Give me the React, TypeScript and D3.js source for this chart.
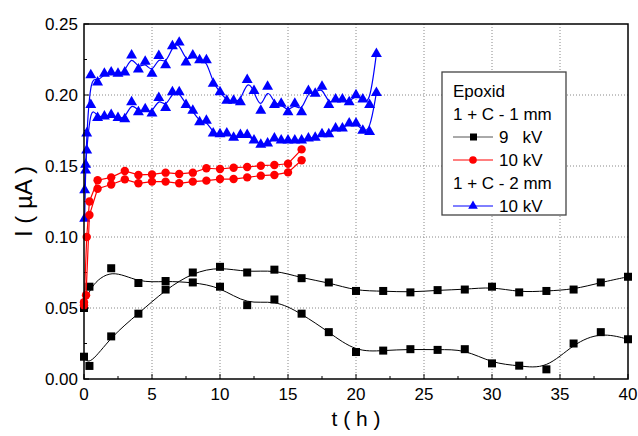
import React, { useEffect, useRef } from 'react';
import * as d3 from 'd3';

const W = 638;
const H = 436;
const margin = { top: 24, right: 10, bottom: 57, left: 84 };

// black, 1 mm, 9 kV (two runs)
const tBlack = [0, 0.4, 2, 4, 6, 8, 10, 12, 14, 16, 18, 20, 22, 24, 26, 28, 30, 32, 34, 36, 38, 40];
const black1 = [0.0157, 0.0092, 0.030, 0.046, 0.063, 0.075, 0.079, 0.075, 0.077, 0.071, 0.068, 0.062,
  0.062, 0.061, 0.0626, 0.063, 0.065, 0.061, 0.062, 0.063, 0.068, 0.072];
const black2 = [0.050, 0.065, 0.078, 0.0676, 0.069, 0.068, 0.065, 0.052, 0.056, 0.046, 0.033, 0.019,
  0.020, 0.021, 0.0205, 0.021, 0.011, 0.0094, 0.0068, 0.025, 0.033, 0.028];

// red, 1 mm, 10 kV (two runs)
const tRed1 = [0, 0.2, 0.4, 1, 2, 3, 4, 5, 6, 7, 8, 9, 10, 11, 12, 13, 14, 15, 16];
const red1 = [0.052, 0.100, 0.125, 0.140, 0.142, 0.1465, 0.1437, 0.1441, 0.1453, 0.1444, 0.1453, 0.1484,
  0.1479, 0.1488, 0.1493, 0.1502, 0.1507, 0.1516, 0.1617];
const tRed2 = [0, 0.15, 0.4, 1, 2, 3, 4, 5, 6, 7, 8, 9, 10, 11, 12, 13, 14, 15, 16];
const red2 = [0.054, 0.059, 0.1155, 0.134, 0.137, 0.1406, 0.1378, 0.139, 0.139, 0.1378, 0.139, 0.1397,
  0.1408, 0.1408, 0.142, 0.1432, 0.1437, 0.1455, 0.154];

// blue, 2 mm, 10 kV (two runs)
const tBlue = [0.05, 0.12, 0.2, 0.5, 1, 1.5, 2, 2.5, 3, 3.5, 4, 4.5, 5, 5.5, 6, 6.5, 7, 7.5, 8, 8.5, 9, 9.5,
  10, 10.5, 11, 11.5, 12, 12.5, 13, 13.5, 14, 14.5, 15, 15.5, 16, 16.5, 17, 17.5, 18, 18.5, 19, 19.5,
  20, 20.5, 21, 21.5];
const blue1 = [0.113, 0.147, 0.173, 0.214, 0.209, 0.215, 0.216, 0.215, 0.216, 0.228, 0.218, 0.2235, 0.215,
  0.2275, 0.221, 0.2345, 0.237, 0.223, 0.228, 0.2246, 0.2246, 0.208, 0.202, 0.196, 0.196, 0.195, 0.2106,
  0.203, 0.189, 0.206, 0.193, 0.194, 0.188, 0.194, 0.188, 0.203, 0.201, 0.206, 0.193, 0.197, 0.197,
  0.195, 0.200, 0.197, 0.193, 0.229];
const blue2 = [0.133, 0.151, 0.161, 0.193, 0.184, 0.185, 0.186, 0.184, 0.183, 0.195, 0.188, 0.190, 0.187,
  0.198, 0.191, 0.202, 0.202, 0.193, 0.189, 0.181, 0.182, 0.173, 0.1725, 0.173, 0.170, 0.172, 0.172,
  0.168, 0.165, 0.166, 0.1695, 0.168, 0.168, 0.168, 0.168, 0.1695, 0.170, 0.1725, 0.1725, 0.1765, 0.1765,
  0.180, 0.180, 0.175, 0.174, 0.2016];

const xTicks = [0, 5, 10, 15, 20, 25, 30, 35, 40];
const yTicks = [0, 0.05, 0.1, 0.15, 0.2, 0.25];
const legendRows = ['Epoxid', '1 + C - 1 mm', '9   kV', '10 kV', '1 + C - 2 mm', '10 kV'];

const FONT = 'Liberation Sans, Arial, sans-serif';

export default function App() {
  const ref = useRef<SVGSVGElement>(null);

  useEffect(() => {
    const svg = d3.select(ref.current);
    svg.selectAll('*').remove();

    const x = d3.scaleLinear().domain([0, 40]).range([margin.left, W - margin.right]);
    const y = d3.scaleLinear().domain([0, 0.25]).range([H - margin.bottom, margin.top]);
    const x0 = x(0), x1 = x(40), y0 = y(0), y1 = y(0.25);

    // dotted grid
    const grid = svg.append('g').attr('stroke', '#888').attr('stroke-width', 1).attr('stroke-dasharray', '1,2');
    xTicks.slice(1, -1).forEach(t => {
      grid.append('line').attr('x1', x(t)).attr('x2', x(t)).attr('y1', y1).attr('y2', y0);
    });
    yTicks.slice(1, -1).forEach(v => {
      grid.append('line').attr('x1', x0).attr('x2', x1).attr('y1', y(v)).attr('y2', y(v));
    });

    // ticks pointing inward
    const ticks = svg.append('g').attr('stroke', '#000').attr('stroke-width', 1);
    d3.range(0, 40.01, 2.5).forEach(t => {
      const len = t % 5 === 0 ? 5 : 3;
      ticks.append('line').attr('x1', x(t)).attr('x2', x(t)).attr('y1', y0).attr('y2', y0 - len);
    });
    d3.range(0, 0.2501, 0.025).forEach((v, i) => {
      const len = i % 2 === 0 ? 5 : 3;
      ticks.append('line').attr('x1', x0).attr('x2', x0 + len).attr('y1', y(v)).attr('y2', y(v));
    });

    svg.selectAll('.xl').data(xTicks).enter().append('text')
      .attr('x', d => x(d)).attr('y', y0 + 21)
      .attr('text-anchor', 'middle').attr('font-size', 17).attr('font-family', FONT)
      .text(d => d);
    svg.selectAll('.yl').data(yTicks).enter().append('text')
      .attr('x', x0 - 6).attr('y', d => y(d) + 6)
      .attr('text-anchor', 'end').attr('font-size', 17).attr('font-family', FONT)
      .text(d => d3.format('.2f')(d));

    svg.append('text').attr('x', (x0 + x1) / 2).attr('y', 426)
      .attr('text-anchor', 'middle').attr('font-size', 21).attr('font-family', FONT)
      .style('white-space', 'pre').text('t ( h )');
    svg.append('text').attr('transform', `translate(32,${(y0 + y1) / 2}) rotate(-90)`)
      .attr('text-anchor', 'middle').attr('font-size', 24).attr('font-family', FONT)
      .style('white-space', 'pre').text('I ( \u00b5A )');

    const basis = d3.line<[number, number]>().x(d => x(d[0])).y(d => y(d[1])).curve(d3.curveBasis);
    const straight = d3.line<[number, number]>().x(d => x(d[0])).y(d => y(d[1]));
    const tri = d3.symbol().type(d3.symbolTriangle).size(52);

    const drawSeries = (ts: number[], vs: number[], color: string, kind: string, smooth: boolean) => {
      const pts = ts.map((t, i) => [t, vs[i]] as [number, number]);
      svg.append('path').datum(pts).attr('fill', 'none').attr('stroke', color)
        .attr('stroke-width', kind === 'square' ? 1 : 1.2)
        .attr('d', smooth ? basis : straight);
      const g = svg.append('g').attr('fill', color);
      pts.forEach(p => {
        if (kind === 'square') {
          g.append('rect').attr('x', x(p[0]) - 4).attr('y', y(p[1]) - 4).attr('width', 8).attr('height', 8);
        } else if (kind === 'circle') {
          g.append('circle').attr('cx', x(p[0])).attr('cy', y(p[1])).attr('r', 4.2);
        } else {
          g.append('path').attr('d', tri).attr('transform', `translate(${x(p[0])},${y(p[1])})`);
        }
      });
    };

    drawSeries(tBlack, black1, '#000', 'square', true);
    drawSeries(tBlack, black2, '#000', 'square', true);
    drawSeries(tBlue, blue1, '#0000ff', 'triangle', true);
    drawSeries(tBlue, blue2, '#0000ff', 'triangle', true);
    drawSeries(tRed1, red1, '#ff0000', 'circle', false);
    drawSeries(tRed2, red2, '#ff0000', 'circle', false);

    // frame
    svg.append('rect').attr('x', x0).attr('y', y1).attr('width', x1 - x0).attr('height', y0 - y1)
      .attr('fill', 'none').attr('stroke', '#000').attr('stroke-width', 1.5);

    // legend
    const lg = svg.append('g');
    lg.append('rect').attr('x', 442).attr('y', 72).attr('width', 124).attr('height', 143)
      .attr('fill', '#fff').attr('stroke', '#444').attr('stroke-width', 1.3);
    legendRows.forEach((txt, i) => {
      const base = 97 + i * 23;
      const hasSym = i === 2 || i === 3 || i === 5;
      lg.append('text').attr('x', hasSym ? 499 : 453).attr('y', base)
        .attr('font-size', 17).attr('font-family', FONT).style('white-space', 'pre').text(txt);
      if (hasSym) {
        const cy = base - 6;
        const color = i === 2 ? '#000' : i === 3 ? '#ff0000' : '#0000ff';
        lg.append('line').attr('x1', 453).attr('x2', 493).attr('y1', cy).attr('y2', cy)
          .attr('stroke', i === 2 ? '#555' : color).attr('stroke-width', 1);
        if (i === 2) lg.append('rect').attr('x', 470).attr('y', cy - 3.5).attr('width', 7).attr('height', 7).attr('fill', color);
        else if (i === 3) lg.append('circle').attr('cx', 473).attr('cy', cy).attr('r', 3.8).attr('fill', color);
        else lg.append('path').attr('d', d3.symbol().type(d3.symbolTriangle).size(40)).attr('transform', `translate(473,${cy})`).attr('fill', color);
      }
    });
  }, []);

  return (
    <svg ref={ref} width={W} height={H} style={{ position: 'absolute', left: 0, top: 0, background: '#fff' }} />
  );
}
